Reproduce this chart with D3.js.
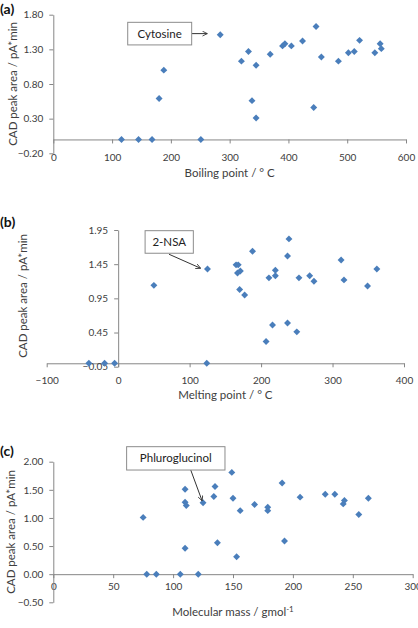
<!DOCTYPE html>
<html>
<head>
<meta charset="utf-8">
<script src="https://cdn.jsdelivr.net/npm/d3@7"></script>
<style>
  body { margin: 0; background: #fff; }
  svg { display: block; font-family: Lato, "Open Sans", sans-serif; }
</style>
</head>
<body>
<div id="chart"></div>
<script>
// Data.
// (a) boiling point vs CAD peak area
var boilPoint = [116, 145, 168, 251, 180, 188, 284, 320, 332, 338, 345, 345, 369, 390, 394, 405, 424, 447, 443, 456, 485, 502, 512, 521, 547, 556, 558];
var boilArea  = [0, 0, 0, 0, 0.59, 1.00, 1.51, 1.13, 1.27, 0.56, 1.07, 0.31, 1.23, 1.35, 1.38, 1.35, 1.42, 1.63, 0.46, 1.19, 1.13, 1.25, 1.27, 1.43, 1.25, 1.38, 1.31];
var boilXTicks = [0, 100, 200, 300, 400, 500, 600];
var boilYTicks = [-0.2, 0.3, 0.8, 1.3, 1.8];

// (b) melting point vs CAD peak area
var meltPoint = [-41, -19, -5, 124, 50, 125, 165, 168, 167, 171, 170, 177, 188, 207, 211, 216, 220, 220, 237, 237, 239, 250, 253, 268, 274, 312, 316, 349, 362];
var meltArea  = [0, 0, 0, 0, 1.14, 1.38, 1.44, 1.44, 1.32, 1.35, 1.08, 1.00, 1.64, 0.32, 1.25, 0.56, 1.36, 1.28, 0.59, 1.57, 1.82, 0.46, 1.25, 1.28, 1.20, 1.51, 1.22, 1.13, 1.38];
var meltXTicks = [-100, 0, 100, 200, 300, 400];
var meltYTicks = [-0.05, 0.45, 0.95, 1.45, 1.95];

// (c) molecular mass vs CAD peak area
var molMass  = [75, 78, 86, 106, 121, 110, 110, 111, 110, 125, 134, 135, 137, 149, 150, 153, 156, 168, 179, 179, 191, 193, 206, 227, 235, 243, 242, 255, 263];
var massArea = [1.01, 0, 0, 0, 0, 1.51, 1.28, 1.22, 0.46, 1.27, 1.38, 1.56, 0.56, 1.81, 1.35, 0.31, 1.13, 1.24, 1.19, 1.13, 1.62, 0.59, 1.37, 1.42, 1.42, 1.31, 1.25, 1.06, 1.35];
var massXTicks = [0, 50, 100, 150, 200, 250, 300];
var massYTicks = [-0.5, 0, 0.5, 1.0, 1.5, 2.0];

var width = 418;
var height = 628;
var markerColor = "#4a7ebb";
var axisColor = "#868686";
var textColor = "#404040";

// Panel layout (pixels) and annotation anchors (data units).
var panels = [
  {
    tag: "(a)", tagY: 9,
    xs: boilPoint, ys: boilArea, xTicks: boilXTicks, yTicks: boilYTicks,
    xRange: [53.3, 406], yRange: [153.3, 14.7],
    labelPad: 10, xTitle: "Boiling point / \u00b0 C", xTitleY: 177,
    yTitleX: 13, yTitleY: 84,
    note: { text: "Cytosine", box: [126.6, 1.69, 235.4, 1.364], from: [235.4, 1.527], to: [262, 1.527] }
  },
  {
    tag: "(b)", tagY: 222,
    xs: meltPoint, ys: meltArea, xTicks: meltXTicks, yTicks: meltYTicks,
    xRange: [46.7, 404], yRange: [366.7, 230],
    labelPad: 10, xTitle: "Melting point / \u00b0 C", xTitleY: 399,
    yTitleX: 23, yTitleY: 296,
    note: { text: "2-NSA", box: [37.7, 1.94, 105.2, 1.61], from: [71.2, 1.595], to: [115.4, 1.39] }
  },
  {
    tag: "(c)", tagY: 451,
    xs: molMass, ys: massArea, xTicks: massXTicks, yTicks: massYTicks,
    xRange: [53.3, 412.7], yRange: [602.3, 461.7],
    labelPad: 5, xTitle: "Molecular mass / gmol", xSup: "-1", xTitleY: 616,
    yTitleX: 11, yTitleY: 532,
    note: { text: "Phluroglucinol", box: [61.2, 2.267, 143.3, 1.852], from: [114.5, 1.865], to: [124.2, 1.305] }
  }
];

var svg = d3.select("#chart").append("svg")
    .attr("width", width)
    .attr("height", height);

// Arrow head for the callouts.
svg.append("defs").append("marker")
    .attr("id", "arrow")
    .attr("viewBox", "0 0 10 10")
    .attr("refX", 9).attr("refY", 5)
    .attr("markerWidth", 6).attr("markerHeight", 6)
    .attr("orient", "auto")
    .append("path")
    .attr("d", "M1,1 L9,5 L1,9")
    .attr("fill", "none")
    .attr("stroke", "#333")
    .attr("stroke-width", 1.4);

var diamond = d3.symbol().type(d3.symbolSquare).size(24);

panels.forEach(function(p) {
  var x = d3.scaleLinear()
      .domain([p.xTicks[0], p.xTicks[p.xTicks.length - 1]])
      .range(p.xRange);
  var y = d3.scaleLinear()
      .domain([p.yTicks[0], p.yTicks[p.yTicks.length - 1]])
      .range(p.yRange);

  var g = svg.append("g");

  // x axis sits on y = 0, labels pushed down a bit
  var xAxis = d3.axisBottom(x)
      .tickValues(p.xTicks)
      .tickFormat(d3.format("d"))
      .tickSizeInner(4)
      .tickSizeOuter(0)
      .tickPadding(p.labelPad);
  g.append("g")
      .attr("transform", "translate(0," + y(0) + ")")
      .call(xAxis);

  // y axis sits on x = 0
  var yAxis = d3.axisLeft(y)
      .tickValues(p.yTicks)
      .tickFormat(d3.format(".2f"))
      .tickSizeInner(4)
      .tickSizeOuter(0)
      .tickPadding(6);
  g.append("g")
      .attr("transform", "translate(" + x(0) + ",0)")
      .call(yAxis);

  g.selectAll(".domain, .tick line").attr("stroke", axisColor);
  g.selectAll(".tick text")
      .attr("fill", textColor)
      .style("font-size", "10px")
      .style("font-family", "Lato, 'Open Sans', sans-serif");

  // points
  g.selectAll("path.dot")
      .data(p.xs)
      .enter()
      .append("path")
      .attr("class", "dot")
      .attr("d", diamond)
      .attr("transform", function(d, i) {
        return "translate(" + x(d) + "," + y(p.ys[i]) + ") rotate(45)";
      })
      .attr("fill", markerColor);

  // axis titles
  var xt = g.append("text")
      .attr("x", (p.xRange[0] + p.xRange[1]) / 2 + (p.xSup ? 0 : 0))
      .attr("y", p.xTitleY)
      .attr("text-anchor", "middle")
      .attr("fill", textColor)
      .style("font-size", "11.5px")
      .text(p.xTitle);
  if (p.xSup) {
    xt.append("tspan")
      .attr("dy", -4)
      .style("font-size", "8px")
      .text(p.xSup);
  }

  g.append("text")
      .attr("transform", "translate(" + p.yTitleX + "," + p.yTitleY + ") rotate(-90)")
      .attr("text-anchor", "middle")
      .attr("dy", "0.35em")
      .attr("fill", textColor)
      .style("font-size", "11.5px")
      .text("CAD peak area / pA*min");

  // panel tag
  svg.append("text")
      .attr("x", 0)
      .attr("y", p.tagY)
      .attr("dy", "0.35em")
      .attr("fill", "#111")
      .style("font-size", "14px")
      .style("font-weight", "bold")
      .text(p.tag);

  // callout box + arrow
  var n = p.note;
  var bx0 = x(n.box[0]), by0 = y(n.box[1]), bx1 = x(n.box[2]), by1 = y(n.box[3]);
  g.append("line")
      .attr("x1", x(n.from[0])).attr("y1", y(n.from[1]))
      .attr("x2", x(n.to[0])).attr("y2", y(n.to[1]))
      .attr("stroke", "#333")
      .attr("stroke-width", 1)
      .attr("marker-end", "url(#arrow)");
  g.append("rect")
      .attr("x", bx0).attr("y", by0)
      .attr("width", bx1 - bx0).attr("height", by1 - by0)
      .attr("fill", "#fff")
      .attr("stroke", "#8c8c8c")
      .attr("stroke-width", 1);
  g.append("text")
      .attr("x", (bx0 + bx1) / 2)
      .attr("y", (by0 + by1) / 2)
      .attr("dy", "0.35em")
      .attr("text-anchor", "middle")
      .attr("fill", "#222")
      .style("font-size", "11.5px")
      .text(n.text);
});
</script>
</body>
</html>
